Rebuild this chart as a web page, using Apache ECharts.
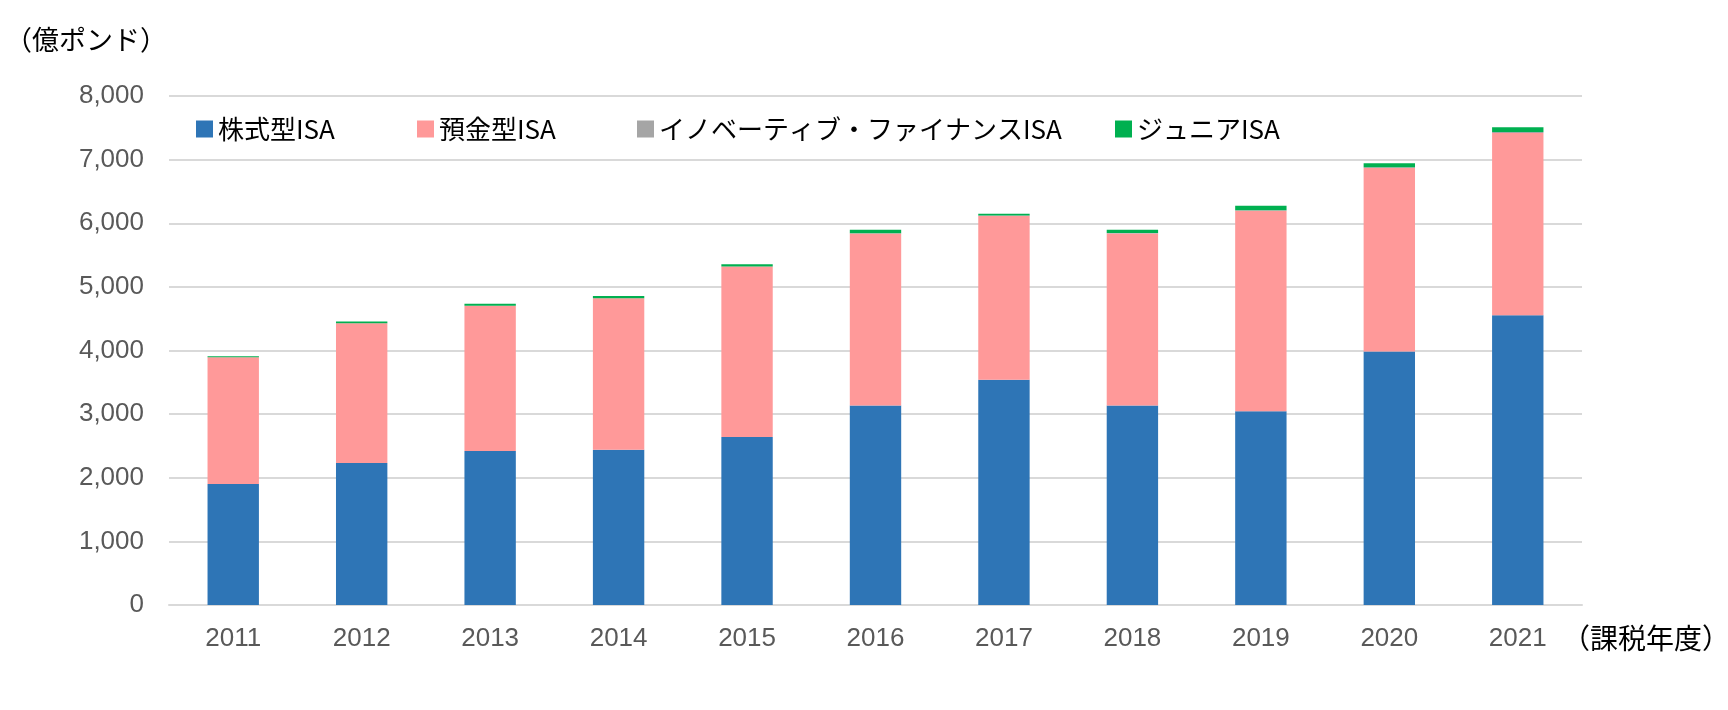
<!DOCTYPE html>
<html><head><meta charset="utf-8">
<script src="https://cdn.jsdelivr.net/npm/echarts@6/dist/echarts.min.js"></script>
<style>html,body{margin:0;padding:0;background:#fff}#c{width:1728px;height:710px}</style>
</head><body><div id="c"></div>
<script>
const years = ['2011','2012','2013','2014','2015','2016','2017','2018','2019','2020','2021'];
const seriesNames = ['株式型ISA','預金型ISA','イノベーティブ・ファイナンスISA','ジュニアISA'];
const stocksISA = [1900,2230,2420,2440,2640,3135,3540,3135,3045,3983,4555];
const cashISA = [1995,2200,2285,2380,2680,2705,2575,2705,3150,2887,2865];
const innovativeISA = [0,0,0,0,0,2,5,8,10,12,15];
const juniorISA = [15,25,28,38,37,54,28,48,70,62,75];
const yTicks = [0,1000,2000,3000,4000,5000,6000,7000,8000];
const colors = ['#2E75B6','#FF9999','#A5A5A5','#00B050'];
const legendLeft = [196,417,637,1115];
const values = [stocksISA, cashISA, innovativeISA, juniorISA];

const chart = echarts.init(document.getElementById('c'));
const jp = '"Noto Sans CJK JP", "Noto Sans", sans-serif';
const num = '"Liberation Sans", Arial, sans-serif';
chart.setOption({
  animation: false,
  backgroundColor: '#fff',
  grid: {left:169, right:146, top:96, bottom:105, containLabel:false},
  legend: seriesNames.map((n,i)=>({
    data:[n], left:legendLeft[i], top:116, padding:0,
    itemWidth:17, itemHeight:17, itemGap:5,
    icon:'rect',
    textStyle:{fontFamily:jp, fontSize:26, color:'#000'}
  })),
  xAxis: {
    type:'category', data:years,
    axisLine:{lineStyle:{color:'#d9d9d9', width:2}},
    axisTick:{show:false},
    axisLabel:{fontFamily:num, fontSize:26, color:'#595959', margin:21}
  },
  yAxis: {
    type:'value', min:yTicks[0], max:yTicks[yTicks.length-1], interval:1000,
    axisLine:{show:false}, axisTick:{show:false},
    splitLine:{lineStyle:{color:'#d9d9d9', width:2}},
    axisLabel:{fontFamily:num, fontSize:26, color:'#595959', margin:25,
      formatter:v=>v.toLocaleString('en-US')}
  },
  graphic: [
    {type:'text', left:5, top:26, style:{text:'（億ポンド）', fontFamily:jp, fontSize:27, fill:'#000'}},
    {type:'text', left:1562, top:624, style:{text:'（課税年度）', fontFamily:jp, fontSize:28, fill:'#000'}}
  ],
  series: seriesNames.map((n,i)=>({
    name:n, type:'bar', stack:'total', data:values[i],
    barWidth:'40%',
    itemStyle:{color:colors[i]}
  }))
});
</script></body></html>
